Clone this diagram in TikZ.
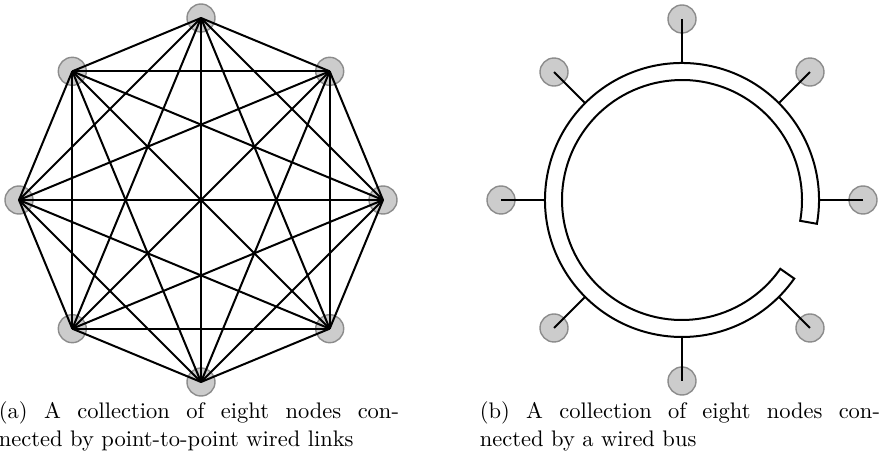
\documentclass[tikz,border=0pt]{standalone}
\begin{document}
\begin{tikzpicture}[x=1pt,y=1pt,
  station/.style={circle,minimum size=28pt,inner sep=0pt,fill=black!20,draw=black!45,line width=1.4pt},
  wire/.style={line width=2pt},
  captext/.style={anchor=base west,inner sep=0pt,scale=2.25}]
\useasboundingbox (0,0) rectangle (887,464);
\coordinate (ca) at (201,264);
\coordinate (cb) at (682,264);
% the eight stations of both networks
\foreach \i in {0,...,7} {
  \node[station] (a\i) at ([shift={(ca)}]\i*45:182) {};
  \node[station] (b\i) at ([shift={(cb)}]\i*45:181) {};
}
% (a) every pair of stations has its own link
\foreach \i in {0,...,6} {
  \pgfmathtruncatemacro\nxt{\i+1}
  \foreach \j in {\nxt,...,7}
    \draw[wire] (a\i.center) -- (a\j.center);
}
% (b) a shared bus ring with a gap, and a drop line per station
\draw[wire,fill=white]
  ([shift={(cb)}]-10:137) arc[start angle=-10,end angle=325,radius=137]
  -- ([shift={(cb)}]325:120) arc[start angle=325,end angle=-10,radius=120]
  -- cycle;
\foreach \i in {0,...,7} {
  \coordinate (r\i) at ([shift={(cb)}]\i*45:137);
  \draw[wire] (b\i.center) -- (r\i);
}
% captions
\node[captext] (capa1) at (-1.5,45) {\makebox[177.8pt][s]{(a) A collection of eight nodes con-}};
\node[captext] (capa2) at (-1.5,17) {nected by point-to-point wired links};
\node[captext] (capb1) at (479.5,45) {\makebox[177.8pt][s]{(b) A collection of eight nodes con-}};
\node[captext] (capb2) at (479.5,17) {nected by a wired bus};
\end{tikzpicture}
\end{document}
